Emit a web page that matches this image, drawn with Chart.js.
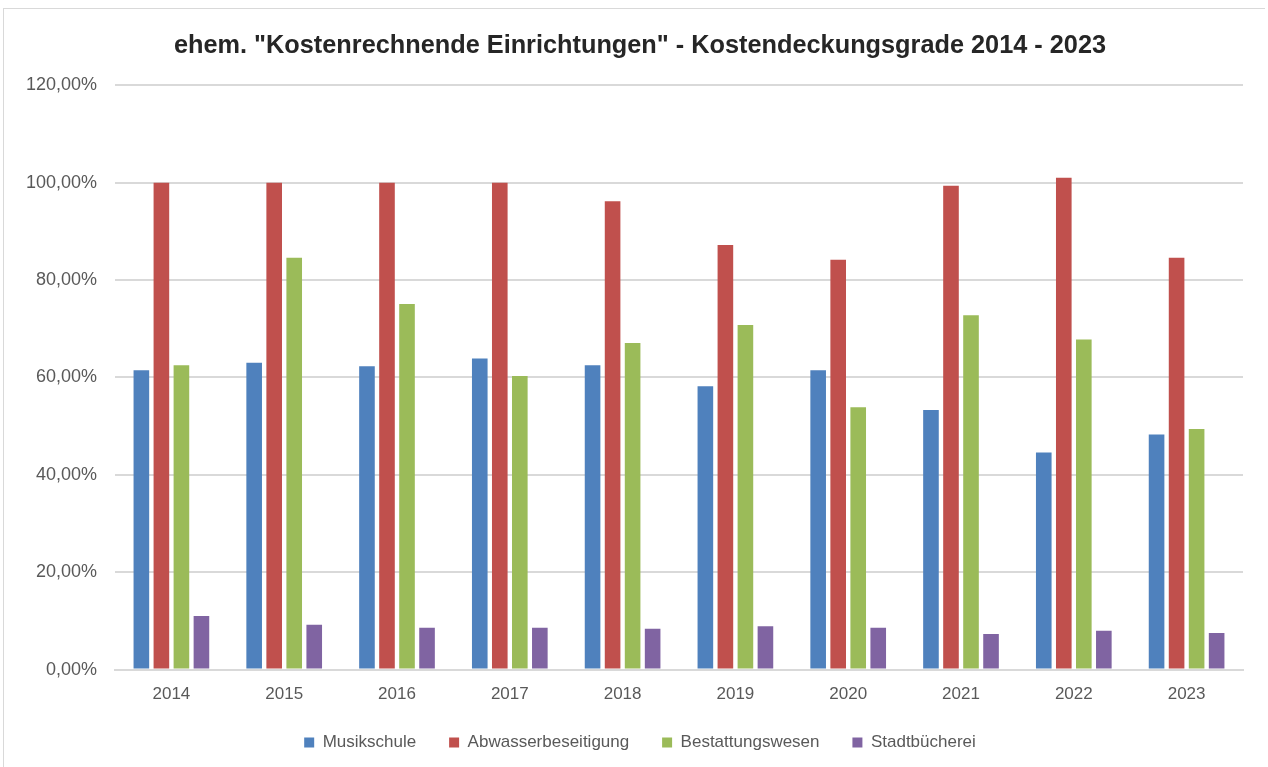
<!DOCTYPE html>
<html>
<head>
<meta charset="utf-8">
<script src="https://cdn.jsdelivr.net/npm/chart.js@4/dist/chart.umd.min.js"></script>
<style>
    body { margin: 0; background: #ffffff; }
    #wrap {
        position: absolute; left: 3px; top: 8px;
        width: 1262px; height: 760px;
        border: 1px solid #d9d9d9;
        border-right: none; border-bottom: none;
        box-sizing: border-box;
    }
    #holder { position: absolute; left: 0; top: 0; width: 1268px; height: 767px; }
</style>
</head>
<body>
<div id="wrap"></div>
<div id="holder"><canvas id="analytics" width="1268" height="767"></canvas></div>
<script>
// Jahre
const years = ['2014', '2015', '2016', '2017', '2018', '2019', '2020', '2021', '2022', '2023'];

// Kostendeckungsgrade in %
const musikschule = [61.5, 63.0, 62.3, 63.9, 62.5, 58.2, 61.5, 53.3, 44.6, 48.3];
const abwasser = [100.0, 100.0, 100.0, 100.0, 96.2, 87.2, 84.2, 99.4, 101.0, 84.6];
const bestattung = [62.5, 84.6, 75.1, 60.3, 67.1, 70.8, 53.9, 72.8, 67.8, 49.4];
const buecherei = [11.0, 9.2, 8.6, 8.6, 8.4, 8.9, 8.6, 7.3, 8.0, 7.5];

const yTicks = [0, 20, 40, 60, 80, 100, 120];

const fontName = "'Liberation Sans', Arial, sans-serif";
const greyText = '#595959';
const gridColor = '#d9d9d9';

function makeSet(label, values, color) {
    return {
        label: label,
        data: values,
        backgroundColor: color,
        borderColor: color,
        borderWidth: 0,
        categoryPercentage: 0.71,
        barPercentage: 0.78
    };
}

const ctx = document.getElementById('analytics').getContext('2d');

new Chart(ctx, {
    type: 'bar',
    data: {
        labels: years,
        datasets: [
            makeSet('Musikschule', musikschule, '#4F81BD'),
            makeSet('Abwasserbeseitigung', abwasser, '#C0504D'),
            makeSet('Bestattungswesen', bestattung, '#9BBB59'),
            makeSet('Stadtbücherei', buecherei, '#8064A2')
        ]
    },
    options: {
        responsive: false,
        animation: false,
        layout: {
            padding: { left: 14, right: 2, top: 15, bottom: 6 }
        },
        scales: {
            x: {
                grid: { display: false, drawTicks: false },
                border: { color: gridColor, width: 2 },
                ticks: {
                    color: greyText,
                    font: { family: fontName, size: 17 },
                    padding: 15
                }
            },
            y: {
                min: 0,
                max: 120,
                afterBuildTicks: function(scale) {
                    scale.ticks = yTicks.map(v => ({ value: v }));
                },
                afterFit: function(scale) {
                    scale.width = 101;
                },
                grid: { color: gridColor, lineWidth: 2, drawTicks: false },
                border: { display: false },
                ticks: {
                    color: greyText,
                    font: { family: fontName, size: 18 },
                    padding: 18,
                    callback: function(value) {
                        return value.toFixed(2).replace('.', ',') + '%';
                    }
                }
            },
            // leere Achse rechts, damit Titel und Legende mittig sitzen
            yRight: {
                position: 'right',
                display: true,
                grid: { display: false, drawTicks: false },
                border: { display: false },
                ticks: { display: false },
                afterFit: function(scale) {
                    scale.width = 23;
                }
            }
        },
        plugins: {
            title: {
                display: true,
                text: 'ehem. "Kostenrechnende Einrichtungen" - Kostendeckungsgrade 2014 - 2023',
                color: '#262626',
                font: { family: fontName, size: 25.3, weight: 'bold' },
                padding: { top: 16, bottom: 24 }
            },
            legend: {
                display: true,
                position: 'bottom',
                labels: {
                    color: greyText,
                    font: { family: fontName, size: 17 },
                    boxWidth: 10,
                    boxHeight: 10,
                    padding: 14,
                    // kleiner Abstand nach oben, mehr Luft zwischen den Einträgen
                    generateLabels: function(chart) {
                        const items = Chart.defaults.plugins.legend.labels.generateLabels(chart);
                        items.forEach((item, i) => {
                            if (i < items.length - 1) {
                                item.text += '    ';
                            }
                        });
                        return items;
                    }
                }
            },
            tooltip: { enabled: false }
        }
    }
});
</script>
</body>
</html>
